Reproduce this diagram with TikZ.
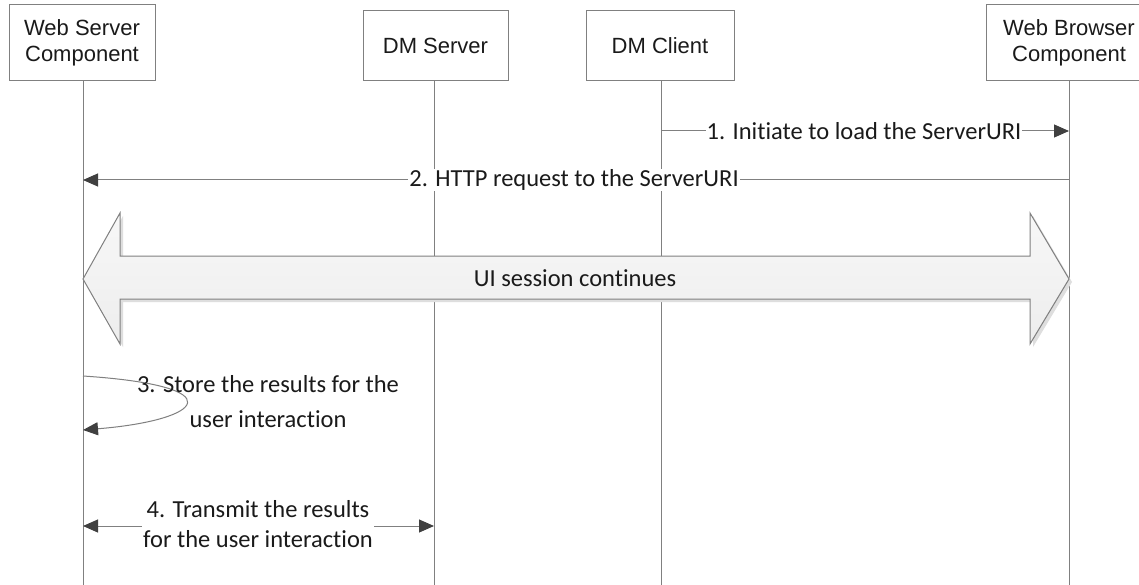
\documentclass[tikz,border=0pt]{standalone}
\usepackage{fontspec}
\setmainfont{Carlito}[Ligatures={NoCommon,NoRare,NoContextual}]
\newfontfamily\boxfont{Liberation Sans}
\usetikzlibrary{arrows.meta}
\definecolor{linegray}{HTML}{808080}
\definecolor{headgray}{HTML}{404040}
\definecolor{inkgray}{HTML}{1A1A1A}
\tikzset{msgtip/.tip={Triangle[length=15pt,width=13pt,color=headgray,fill=headgray]}}
\begin{document}
\begin{tikzpicture}[x=1pt,y=-1pt,
  lifebox/.style={draw=linegray,line width=1pt,fill=white,text=inkgray,
    font=\boxfont\fontsize{22}{26}\selectfont,align=center,inner sep=0pt},
  life/.style={draw=linegray,line width=1pt},
  msg/.style={draw=linegray,line width=1pt,-{msgtip}},
  bimsg/.style={draw=linegray,line width=1pt,{msgtip}-{msgtip}},
  msglabel/.style={text=inkgray,font=\fontsize{24.5}{30}\selectfont,
    align=center,inner sep=1pt},
  masked/.style={msglabel,fill=white},
  bigarrow/.style={draw=linegray,line width=1pt,top color=white!97!black,
    bottom color=white!93!black},
  bigshadow/.style={fill=black!13,draw=none}
]
\clip (0,0) rectangle (1139,585);
\fill[white] (0,0) rectangle (1139,585);

% participants
\node[lifebox,minimum width=146pt,minimum height=76pt] (ws) at (82,43) {Web Server\\Component};
\node[lifebox,minimum width=145pt,minimum height=70pt] (dms) at (435.5,46) {DM Server};
\node[lifebox,minimum width=148pt,minimum height=70pt] (dmc) at (660,46) {DM Client};
\node[lifebox,minimum width=166pt,minimum height=76pt] (wb) at (1069,43) {Web Browser\\Component};

% lifeline anchors
\coordinate (wsTop) at (83,81);   \coordinate (wsEnd) at (83,585);
\coordinate (dmsTop) at (434,81); \coordinate (dmsEnd) at (434,585);
\coordinate (dmcTop) at (661,81); \coordinate (dmcEnd) at (661,585);
\coordinate (wbTop) at (1069,81); \coordinate (wbEnd) at (1069,585);

\draw[life] (wsTop) -- (wsEnd);
\draw[life] (dmsTop) -- (dmsEnd);
\draw[life] (dmcTop) -- (dmcEnd);
\draw[life] (wbTop) -- (wbEnd);

% 1. client -> browser
\coordinate (m1a) at (661,131); \coordinate (m1b) at (1069,131);
\draw[msg] (m1a) -- (m1b);
\node[masked] (l1) at (864,131) {1. Initiate to load the ServerURI};

% 2. browser -> web server
\coordinate (m2a) at (1069,180); \coordinate (m2b) at (83,180);
\draw[msg] (m2a) -- (m2b);
\node[masked] (l2) at (574,180) {2. HTTP request to the ServerURI};

% UI session double arrow
\begin{scope}[shift={(3,3)}]
\fill[bigshadow] (83,279) -- (120,213) -- (120,256) -- (1030,256) -- (1030,213)
  -- (1069,279) -- (1030,344) -- (1030,299) -- (120,299) -- (120,344) -- cycle;
\end{scope}
\path[bigarrow] (83,279) -- (120,213) -- (120,256) -- (1030,256) -- (1030,213)
  -- (1069,279) -- (1030,344) -- (1030,299) -- (120,299) -- (120,344) -- cycle;
\node[msglabel] (ui) at (575,278) {UI session continues};

% 3. self message on the web server
\coordinate (m3a) at (83,376); \coordinate (m3b) at (83,430);
\draw[msg] (m3a) .. controls (235,386) and (205,420) .. (m3b);
\node[msglabel,font=\fontsize{24.5}{35}\selectfont] (l3) at (268,402)
  {3. Store the results for the\\user interaction};

% 4. web server <-> DM server
\coordinate (m4a) at (83,526); \coordinate (m4b) at (434,526);
\draw[bimsg] (m4a) -- (m4b);
\node[masked] (l4) at (258,524) {4. Transmit the results\\for the user interaction};
\end{tikzpicture}
\end{document}
